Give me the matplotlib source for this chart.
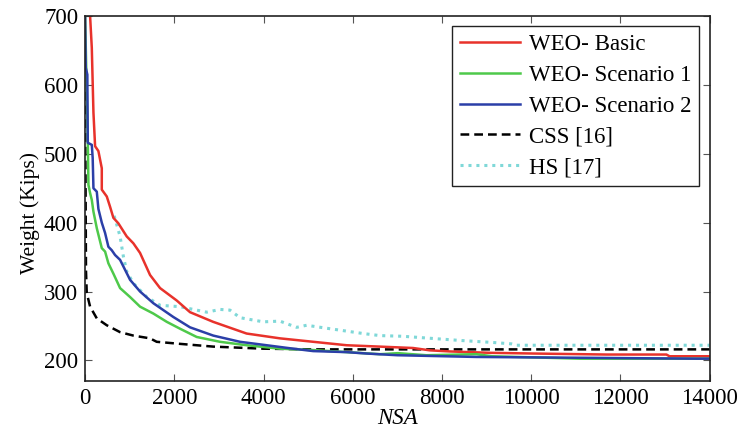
import numpy as np
import matplotlib
matplotlib.use('Agg')
import matplotlib.pyplot as plt

plt.rcParams['font.family'] = ['Liberation Serif', 'DejaVu Serif']

# WEO - Basic
basic_x = [112, 150, 187, 224, 298, 374, 374, 486, 560, 634, 746, 933, 1082, 1232, 1456, 1680,
           2053, 2352, 2870, 3620, 4368, 5115, 5862, 6608, 7350, 7728, 8176, 9072, 10006,
           11686, 13030, 13100, 14000]
basic_y = [700, 654, 560, 511, 504, 479, 448, 438, 423, 407, 399, 380, 370, 356, 324, 305,
           287, 270, 256, 239, 232, 227, 222, 220, 218, 214.6, 213, 211, 210,
           208.5, 208.5, 206, 206]

# WEO - Scenario 1
sc1_x = [0, 20, 40, 60, 75, 112, 150, 187, 262, 374, 448, 522, 634, 784, 1008, 1232, 1530,
         1830, 2128, 2502, 3024, 3622, 4368, 5114, 5862, 6608, 7011, 7650, 8773, 9120,
         11088, 14000]
sc1_y = [700, 640, 580, 520, 455, 443, 433, 416, 392, 363, 358, 341, 326, 305, 292, 278, 268,
         256, 246, 234, 227, 222, 217, 215, 212, 209, 210.5, 207.5, 209, 206,
         202.5, 202.5]

# WEO - Scenario 2
sc2_x = [0, 15, 50, 60, 150, 170, 187, 262, 298, 374, 448, 522, 597, 672, 784, 1008, 1232,
         1530, 1978, 2352, 2874, 3472, 4070, 4666, 5114, 5862, 6300, 7000, 8770, 13700, 14000]
sc2_y = [700, 625, 615, 516, 513, 494, 450, 445, 420, 400, 385, 365, 360, 353, 346, 317, 300,
         283, 263, 248, 236, 227, 222, 217, 213.5, 212, 210, 207.5, 205, 202.5, 202.5]

# CSS [16]
css_x = [0, 20, 37, 112, 262, 486, 784, 1082, 1456, 1605, 2128, 2874, 3994, 5114, 14000]
css_y = [590, 330, 298, 278, 261, 251, 241, 236, 232, 227, 224, 220, 217, 216, 216]

# HS [17]
hs_x = [650, 710, 784, 822, 858, 933, 1082, 1382, 1680, 2128, 2726, 3024, 3248, 3472, 3994,
        4368, 4741, 4965, 5488, 6235, 6608, 7130, 7650, 8400, 9146, 9557, 9669, 14000]
hs_y = [410, 397, 380, 365, 351, 329, 312, 292, 280, 278, 270, 274, 273, 262, 256,
        257, 248, 251, 246, 239, 236, 235, 232.5, 229, 226, 224, 222, 222]

fig = plt.figure(figsize=(7.4, 4.34), dpi=100)
ax = fig.add_axes([0.115, 0.122, 0.844, 0.841])

ax.plot(hs_x, hs_y, color='#7fd8d8', lw=2.2, ls=(0, (1, 1.6)), label='HS [17]')
ax.plot(css_x, css_y, color='black', lw=1.8, ls=(0, (3.5, 2)), label='CSS [16]')
ax.plot(basic_x, basic_y, color='#e8322b', lw=1.8, label='WEO- Basic')
ax.plot(sc1_x, sc1_y, color='#4ec94a', lw=1.8, label='WEO- Scenario 1')
ax.plot(sc2_x, sc2_y, color='#2b3fa8', lw=1.8, label='WEO- Scenario 2')

ax.set_xlim(0, 14000)
ax.set_ylim(170, 700)
ax.set_xticks(np.arange(0, 14001, 2000))
ax.set_yticks(np.arange(200, 701, 100))
ax.tick_params(direction='in', top=True, right=True, labelsize=16.5, length=5,
               color='#555555', pad=5)
for s in ax.spines.values():
    s.set_linewidth(1.2)
    s.set_color('#222222')

ax.set_xlabel('NSA', fontsize=16.5, style='italic', labelpad=-1)
ax.set_ylabel('Weight (Kips)', fontsize=15.5)
ax.yaxis.set_label_coords(-0.072, 0.46)

h, l = ax.get_legend_handles_labels()
order = [2, 3, 4, 1, 0]
leg = ax.legend([h[i] for i in order], [l[i] for i in order], loc='upper right',
                fontsize=16.5, fancybox=False, framealpha=1, edgecolor='#222222',
                handlelength=2.6, borderpad=0.35, labelspacing=0.42,
                handletextpad=0.4, borderaxespad=0.45)
leg.get_frame().set_linewidth(1.0)

fig.savefig('out.png', dpi=100)
